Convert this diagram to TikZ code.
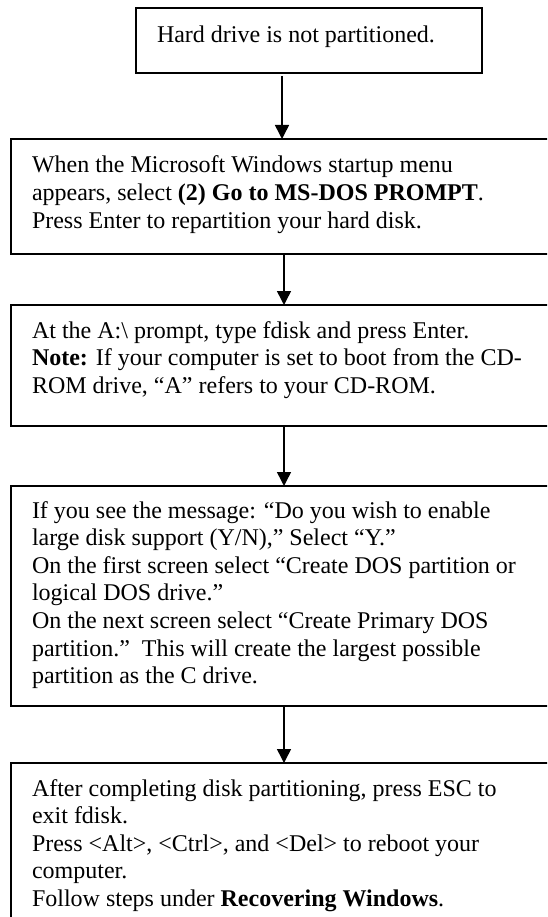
\documentclass[tikz,border=0pt]{standalone}
\usepackage{fontspec}
\setmainfont{Liberation Serif}
\usetikzlibrary{arrows.meta}
\tikzset{
  box/.style={draw=black, line width=1.5pt, rectangle, inner sep=0pt, outer sep=0pt, anchor=north west},
  txt/.style={anchor=north west, inner sep=0pt, outer sep=0pt, align=left, font=\fontsize{24}{27.6}\selectfont},
  arr/.style={line width=1.5pt, -{Triangle[length=14pt,width=14pt]}}
}
\newcommand{\firstline}{\rule{0pt}{18pt}}
\begin{document}
\begin{tikzpicture}[x=1pt,y=1pt]
\useasboundingbox (0,0) rectangle (547,-917);
\clip (0,0) rectangle (547,-917);
% boxes
\node[box, minimum width=346, minimum height=65] (b1) at (136,-8) {};
\node[box, minimum width=570, minimum height=115] (b2) at (11,-139) {};
\node[box, minimum width=570, minimum height=121] (b3) at (11,-305) {};
\node[box, minimum width=570, minimum height=220] (b4) at (11,-486) {};
\node[box, minimum width=570, minimum height=200] (b5) at (11,-763) {};
% texts
\node[txt] (t1) at ([xshift=21,yshift=-17]b1.north west) {\firstline Hard drive is not partitioned.};
\node[txt] (t2) at ([xshift=21,yshift=-16]b2.north west) {\firstline When the Microsoft Windows startup menu\\
appears, select \textbf{(2) Go to MS-DOS PROMPT}.\\
Press Enter to repartition your hard disk.};
\node[txt] (t3) at ([xshift=21,yshift=-15]b3.north west) {\firstline At the A:\textbackslash{} prompt, type fdisk and press Enter.\\
\textbf{Note:} If your computer is set to boot from the CD-\\
ROM drive, “A” refers to your CD-ROM.};
\node[txt] (t4) at ([xshift=21,yshift=-14]b4.north west) {\firstline If you see the message: “Do you wish to enable\\
large disk support (Y/N),” Select “Y.”\\
On the first screen select “Create DOS partition or\\
logical DOS drive.”\\
On the next screen select “Create Primary DOS\\
partition.”\ \ This will create the largest possible\\
partition as the C drive.};
\node[txt] (t5) at ([xshift=21,yshift=-15]b5.north west) {\firstline After completing disk partitioning, press ESC to\\
exit fdisk.\\
Press <Alt>, <Ctrl>, and <Del> to reboot your\\
computer.\\
Follow steps under \textbf{Recovering Windows}.};
% arrow axes
\coordinate (ax1) at (282,0);
\coordinate (ax) at (284,0);
% connectors
\draw[arr, shorten <=3pt] (b1.south -| ax1) -- (b2.north -| ax1);
\draw[arr] (b2.south -| ax) -- (b3.north -| ax);
\draw[arr] (b3.south -| ax) -- (b4.north -| ax);
\draw[arr] (b4.south -| ax) -- (b5.north -| ax);
\end{tikzpicture}
\end{document}
